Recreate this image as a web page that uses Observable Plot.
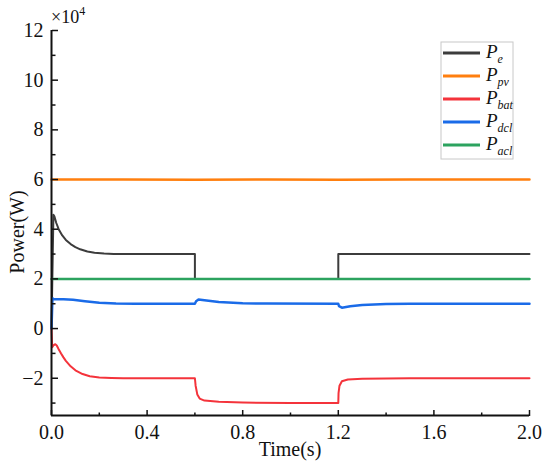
<!DOCTYPE html>
<html>
<head>
<meta charset="utf-8">
<script src="https://cdn.jsdelivr.net/npm/d3@7"></script>
<script src="https://cdn.jsdelivr.net/npm/@observablehq/plot@0.6"></script>
<style>
  body { margin: 0; background: #fff; }
  #chart { width: 550px; height: 470px; }
</style>
</head>
<body>
<div id="chart"></div>
<script>
// Series: [time (s), power (W)]
const Pe = [[0,0],[0.008,45800],[0.012,45200],[0.02,42500],[0.03,40000],[0.045,37500],[0.06,35700],[0.08,34000],[0.1,32800],[0.12,31900],[0.15,31000],[0.18,30500],[0.22,30200],[0.26,30050],[0.3,30000],[0.6,30000],[0.6,20000],[1.2,20000],[1.2,30000],[2.0,30000]];
const Ppv = [[0,60000],[0.3,60050],[0.6,59950],[0.9,60050],[1.2,59950],[1.5,60050],[2.0,60000]];
const Pbat = [[0,0],[0.003,-7500],[0.008,-6800],[0.016,-6300],[0.022,-6800],[0.03,-8300],[0.04,-10000],[0.05,-11600],[0.06,-13000],[0.08,-15200],[0.1,-16800],[0.13,-18300],[0.16,-19200],[0.2,-19700],[0.25,-19900],[0.3,-20000],[0.6,-20000],[0.603,-23000],[0.61,-26500],[0.62,-28200],[0.64,-29000],[0.7,-29500],[0.8,-29800],[1.0,-30000],[1.2,-30000],[1.201,-26000],[1.205,-23000],[1.215,-21200],[1.24,-20500],[1.3,-20200],[1.5,-20000],[2.0,-20000]];
const Pdcl = [[0,0],[0.004,12200],[0.01,11800],[0.05,11800],[0.09,11600],[0.14,11000],[0.2,10400],[0.27,10100],[0.35,10000],[0.6,10000],[0.605,11000],[0.615,11700],[0.64,11400],[0.7,10700],[0.8,10200],[0.9,10050],[1.2,10000],[1.203,9000],[1.215,8400],[1.25,9000],[1.3,9500],[1.4,9850],[1.5,10000],[2.0,10000]];
const Pacl = [[0,20000],[2.0,20000]];

const seriesNames = ["P_e", "P_pv", "P_bat", "P_dcl", "P_acl"];
const seriesData = [Pe, Ppv, Pbat, Pdcl, Pacl];
const seriesColors = ["#3c3c3c", "#ff7f0e", "#f4333b", "#1a6be8", "#2ca35f"];
const seriesWidths = [2, 2.5, 2, 2.5, 2.5];

const xTicks = [0, 0.4, 0.8, 1.2, 1.6, 2.0];
const xMinor = [0.2, 0.6, 1.0, 1.4, 1.8];
const yTicks = [-20000, 0, 20000, 40000, 60000, 80000, 100000, 120000];
const yMinor = [-30000, -10000, 10000, 30000, 50000, 70000, 90000, 110000];

const xDomain = [0, 2];
const yDomain = [-35000, 120000];

const FONT = '"Liberation Serif", "Times New Roman", serif';
const FS = "20px";

const marks = [];
seriesData.forEach((d, i) => {
  marks.push(Plot.line(d, {x: p => p[0], y: p => p[1], stroke: seriesColors[i], strokeWidth: seriesWidths[i]}));
});
marks.push(
  Plot.axisY({ticks: yTicks, tickSize: 0, tickPadding: 8, tickFormat: d => String(d / 1e4).replace("-", "\u2212"), label: null}),
  Plot.axisY({ticks: yTicks, anchor: "right", frameAnchor: "left", tickSize: 6, text: null, label: null, strokeWidth: 1.5}),
  Plot.axisY({ticks: yMinor, anchor: "right", frameAnchor: "left", tickSize: 3.5, text: null, label: null, strokeWidth: 1.5}),
  Plot.axisX({ticks: xTicks, tickSize: 0, tickPadding: 9, tickFormat: d3.format(".1f"), label: null}),
  Plot.axisX({ticks: xTicks, anchor: "top", frameAnchor: "bottom", tickSize: 6, text: null, label: null, strokeWidth: 1.5}),
  Plot.axisX({ticks: xMinor, anchor: "top", frameAnchor: "bottom", tickSize: 3.5, text: null, label: null, strokeWidth: 1.5}),
  Plot.ruleX([xDomain[0]], {stroke: "#111", strokeWidth: 2}),
  Plot.ruleY([yDomain[0]], {stroke: "#111", strokeWidth: 2})
);

const chart = Plot.plot({
  width: 550,
  height: 470,
  marginLeft: 51,
  marginRight: 21,
  marginTop: 30,
  marginBottom: 55,
  x: {domain: xDomain},
  y: {domain: yDomain},
  style: {fontFamily: FONT, fontSize: FS, color: "#111", background: "#fff"},
  marks
});
document.getElementById("chart").appendChild(chart);

const svg = d3.select(chart);
svg.selectAll("text").style("font-family", FONT).style("font-size", FS).style("fill", "#111");

// axis titles
svg.append("text").attr("x", 290).attr("y", 456).attr("text-anchor", "middle")
  .style("font-family", FONT).style("font-size", FS).attr("fill", "#111").text("Time(s)");
svg.append("text").attr("transform", "translate(24,232) rotate(-90)").attr("text-anchor", "middle")
  .style("font-family", FONT).style("font-size", FS).attr("fill", "#111").text("Power(W)");
// exponent label
const ex = svg.append("text").attr("x", 51).attr("y", 23).attr("text-anchor", "start")
  .style("font-family", FONT).style("font-size", "18px").attr("fill", "#111");
ex.append("tspan").text("×10");
ex.append("tspan").attr("dy", -8).style("font-size", "12px").text("4");

// legend
const lg = svg.append("g");
lg.append("rect").attr("x", 441).attr("y", 42).attr("width", 72).attr("height", 117)
  .attr("fill", "#fff").attr("stroke", "#c8c8c8").attr("stroke-width", 1);
seriesNames.forEach((name, i) => {
  const y = 53 + i * 23;
  lg.append("line").attr("x1", 443).attr("x2", 480).attr("y1", y).attr("y2", y)
    .attr("stroke", seriesColors[i]).attr("stroke-width", 3);
  const [base, sub] = name.split("_");
  const t = lg.append("text").attr("x", 486).attr("y", y + 5).attr("text-anchor", "start")
    .style("font-family", FONT).style("font-size", "19px")
    .style("font-style", "italic").attr("fill", "#111");
  t.append("tspan").text(base);
  t.append("tspan").attr("dy", 5).style("font-size", "12px").text(sub);
});
</script>
</body>
</html>
